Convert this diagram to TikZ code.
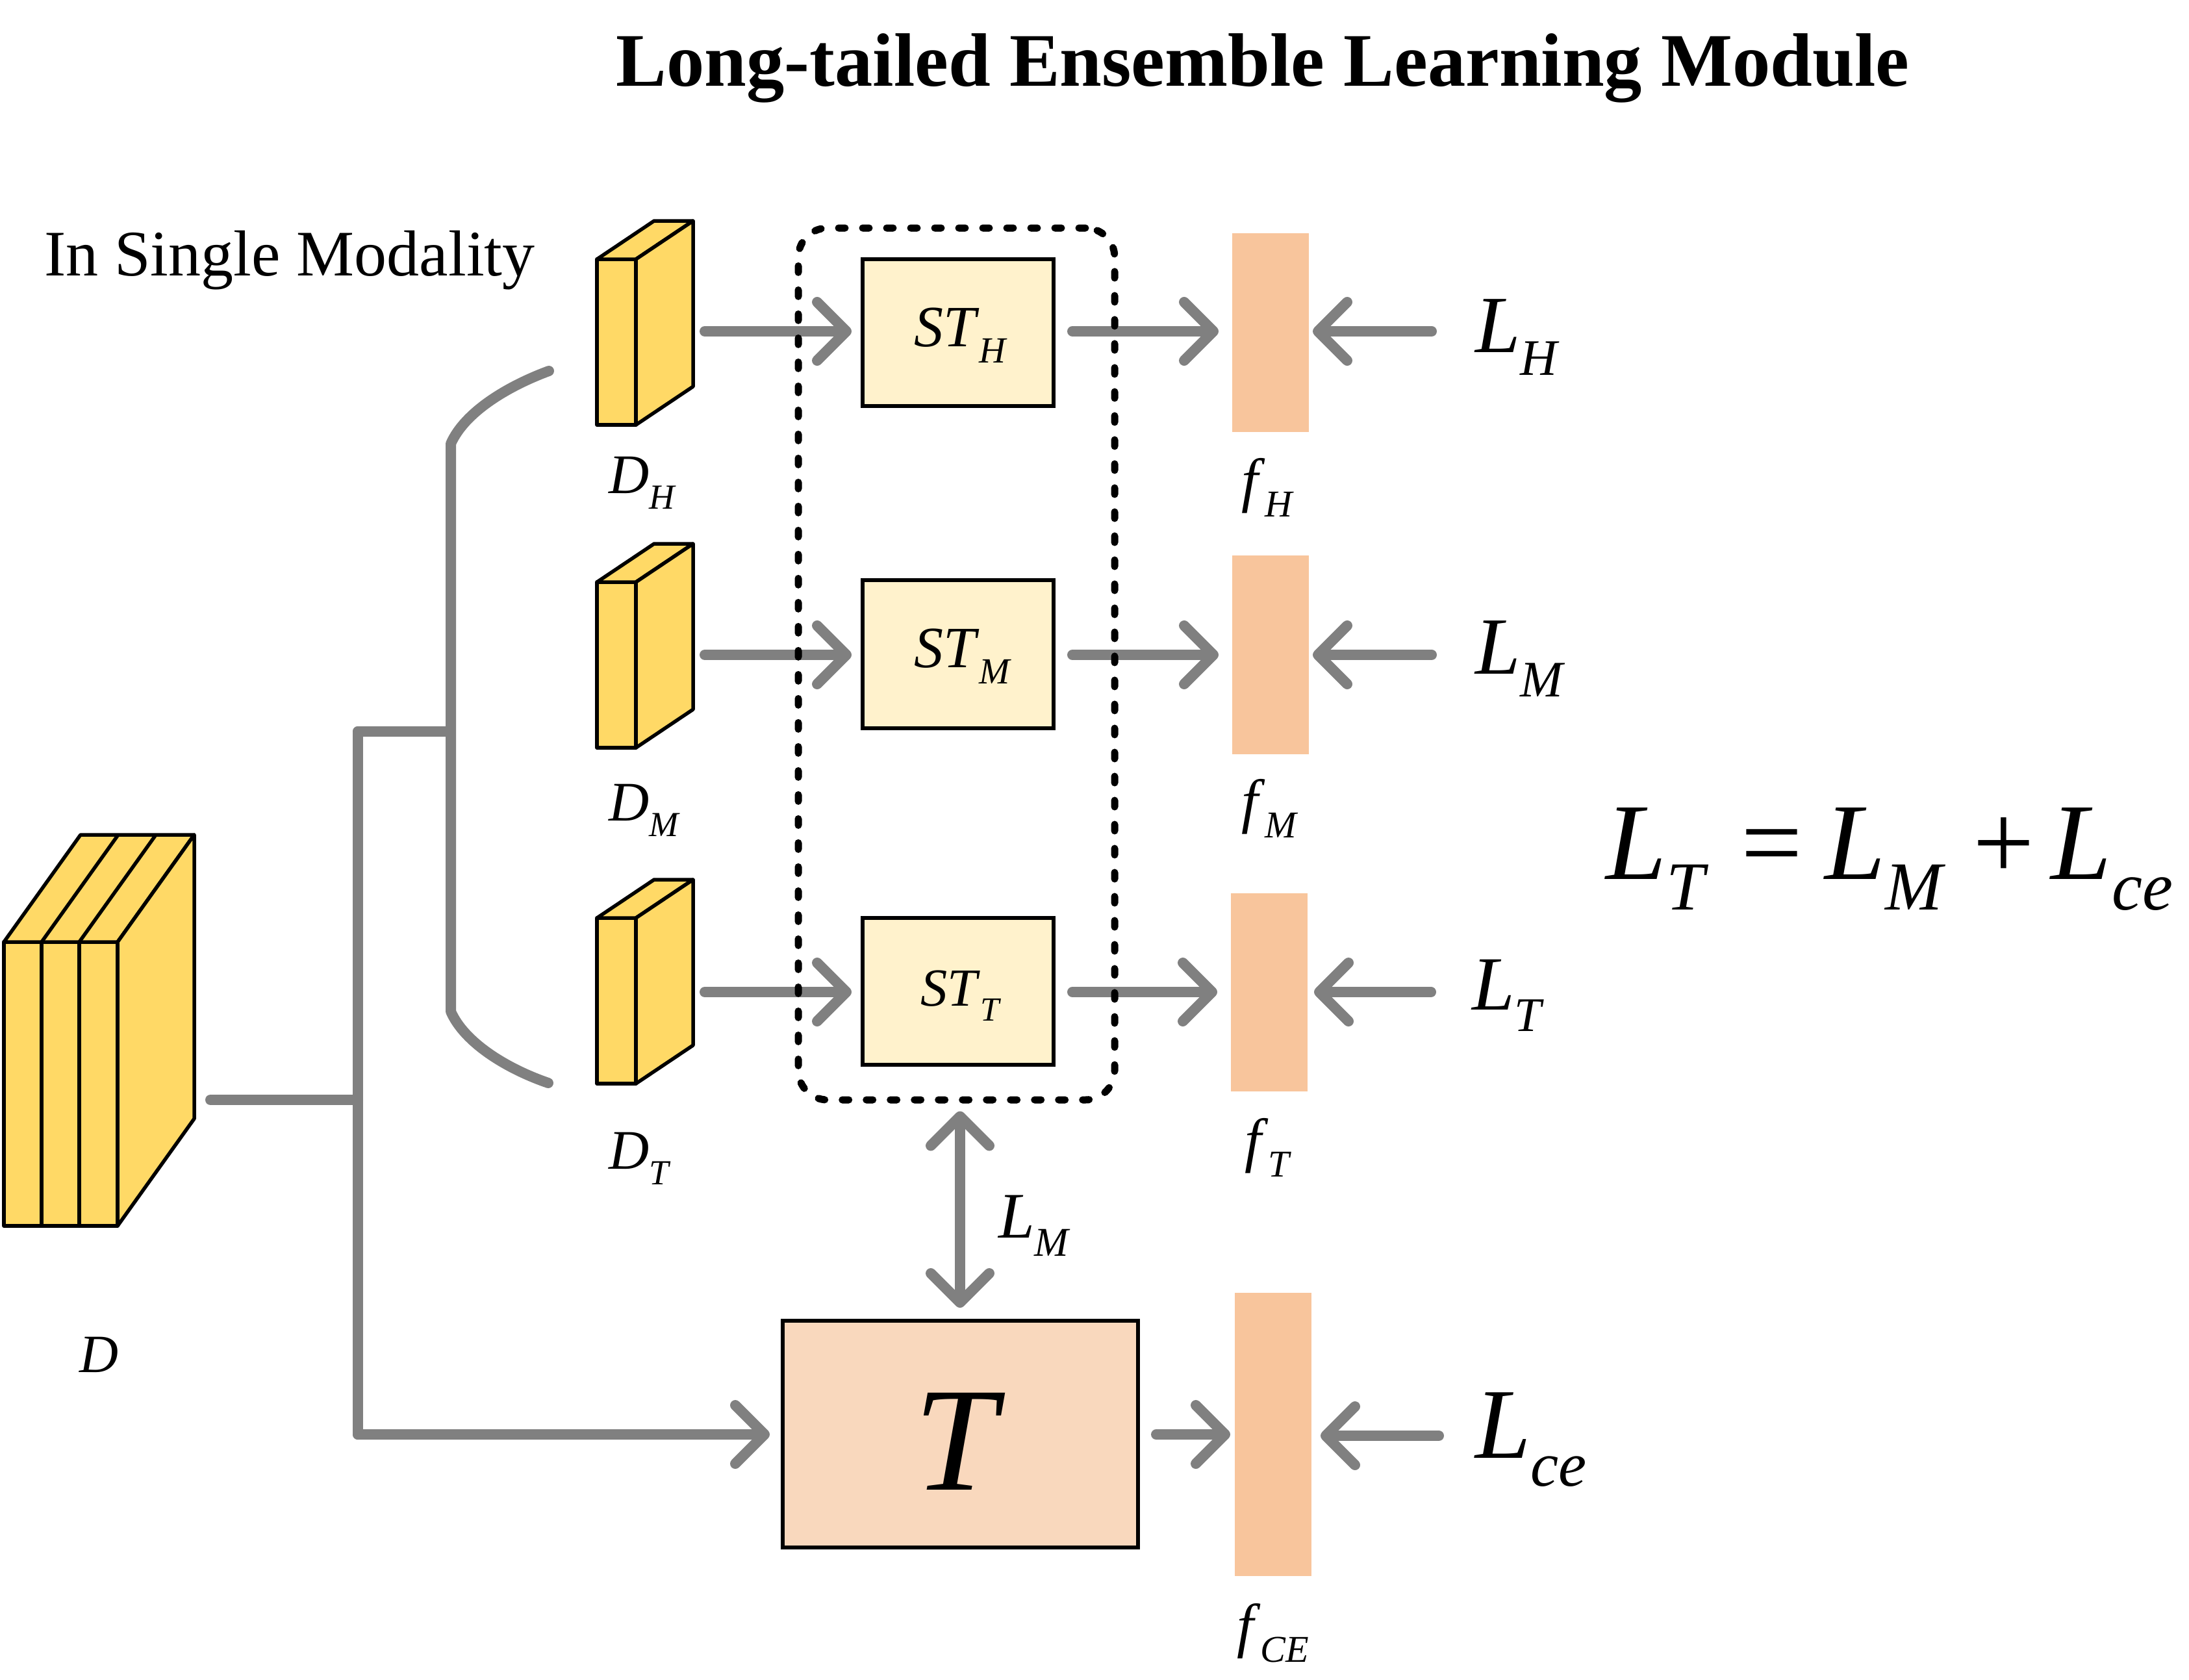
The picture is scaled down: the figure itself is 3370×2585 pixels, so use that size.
\documentclass[tikz,border=0pt]{standalone}
\usepackage{fontspec}
\setmainfont{Liberation Serif}
\usetikzlibrary{arrows.meta,fit}
\definecolor{cub}{HTML}{FFD966}
\definecolor{stc}{HTML}{FFF2CC}
\definecolor{fc}{HTML}{F8C59C}
\definecolor{tc}{HTML}{F9D8BD}
\definecolor{gl}{HTML}{808080}
\newcommand{\lsub}[2]{\textit{#1}\raisebox{-0.28em}{\scalebox{0.63}{\textit{#2}}}}
\newcommand{\fsz}[1]{\fontsize{#1}{#1}\selectfont}
\begin{document}
\begin{tikzpicture}[x=0.2pt,y=-0.2pt,
 cubst/.style={fill=cub,draw=black,line width=1.1pt,line join=round},
 stbox/.style={fill=stc,draw=black,line width=1.2pt,inner sep=0pt},
 fbox/.style={fill=fc,inner sep=0pt},
 tbox/.style={fill=tc,draw=black,line width=1.2pt,inner sep=0pt},
 gline/.style={draw=gl,line width=3.2pt,line cap=round,line join=round},
 arr/.style={gline,-{Straight Barb[length=9pt,width=18pt,round]}},
 darr/.style={gline,{Straight Barb[length=9pt,width=18pt,round]}-{Straight Barb[length=9pt,width=18pt,round]}},
 lbl/.style={inner sep=0pt,anchor=base west},
 grpbox/.style={draw=black,line width=2.2pt,dash pattern=on 2pt off 5.4pt,line cap=round,rounded corners=9pt,inner sep=0pt},
]
\useasboundingbox (0,0) rectangle (3370,2585);

% title and caption
\node[inner sep=0pt,anchor=base] (title) at (1944,133) {\fsz{23.3pt}\bfseries Long-tailed Ensemble Learning Module};
\node[lbl] (single) at (67,424) {\fsz{20pt}In Single Modality};

% big data stack D
\draw[cubst] (6,1450) rectangle (181,1887);
\draw[cubst] (64,1450) -- (64,1887) (122,1450) -- (122,1887);
\draw[cubst] (6,1450) -- (124,1285) -- (299,1285) -- (181,1450) -- cycle;
\draw[cubst] (64,1450) -- (182,1285) (122,1450) -- (240,1285);
\draw[cubst] (181,1450) -- (299,1285) -- (299,1722) -- (181,1887) -- cycle;
\node[lbl] (lD) at (121,2112) {\fsz{16.6pt}\textit{D}};

% small cuboids
\foreach \yy in {399,896,1413}{
 \begin{scope}[shift={(0,\yy)}]
  \draw[cubst] (919,0) rectangle (979,255);
  \draw[cubst] (919,0) -- (1007,-59) -- (1067,-59) -- (979,0) -- cycle;
  \draw[cubst] (979,0) -- (1067,-59) -- (1067,196) -- (979,255) -- cycle;
 \end{scope}
}
\node[lbl] (lDH) at (936,759) {\fsz{17.2pt}\lsub{D}{H}};
\node[lbl] (lDM) at (936,1263) {\fsz{17.2pt}\lsub{D}{M}};
\node[lbl] (lDT) at (936,1799) {\fsz{17.2pt}\lsub{D}{T}};

% ST boxes
\node[stbox,fit={(1328,399)(1622,625)}] (STH) {};
\node[stbox,fit={(1328,893)(1622,1121)}] (STM) {};
\node[stbox,fit={(1328,1413)(1622,1639)}] (STT) {};
\node[lbl] (lSTH) at (1406,533) {\fsz{18pt}\lsub{ST}{H}};
\node[lbl] (lSTM) at (1406,1027) {\fsz{18pt}\lsub{ST}{M}};
\node[lbl] (lSTT) at (1416,1548) {\fsz{16.5pt}\lsub{ST}{T}};

% T box
\node[tbox,fit={(1205,2033)(1752,2382)}] (Tb) {};
\node[inner sep=0pt,anchor=base] (Tl) at (1478,2293) {\fsz{45.6pt}\textit{T}};

% feature bars
\node[fbox,fit={(1897,359)(2015,665)}] (fH) {};
\node[fbox,fit={(1897,855)(2015,1161)}] (fM) {};
\node[fbox,fit={(1895,1375)(2013,1680)}] (fT) {};
\node[fbox,fit={(1901,1990)(2019,2426)}] (fCE) {};
\node[lbl] (lfH) at (1910,770) {\fsz{18.5pt}\lsub{f}{H}};
\node[lbl] (lfM) at (1910,1264) {\fsz{18.5pt}\lsub{f}{M}};
\node[lbl] (lfT) at (1915,1786) {\fsz{18.5pt}\lsub{f}{T}};
\node[lbl] (lfCE) at (1903,2533) {\fsz{18.5pt}\lsub{f}{CE}};

% loss labels
\node[lbl] (LH) at (2270,542) {\fsz{25pt}\lsub{L}{H}};
\node[lbl] (LM) at (2270,1037) {\fsz{25pt}\lsub{L}{M}};
\node[lbl] (LT) at (2265,1554) {\fsz{23.6pt}\lsub{L}{T}};
\node[lbl] (Lce) at (2270,2244) {\fsz{30.8pt}\lsub{L}{ce}};
\node[lbl] (LMm) at (1536,1905) {\fsz{20pt}\lsub{L}{M}};
\node[lbl] (eq) at (2471,1353) {\fsz{33.6pt}\lsub{L}{T}\hspace{0.3em}=\hspace{0.2em}\lsub{L}{M}\hspace{0.25em}+\hspace{0.15em}\lsub{L}{ce}};

% connector coordinates
\coordinate (dOut) at (324,1693);
\coordinate (trMid) at (551,1693);
\coordinate (trTop) at (551,1126);
\coordinate (trBot) at (551,2208);
\coordinate (brJ) at (694,1126);
\coordinate (brA) at (694,683);
\coordinate (brB) at (694,1557);
\coordinate (brTop) at (845,571);
\coordinate (brBot) at (844,1667);
\coordinate (cH) at (1085,510);
\coordinate (cM) at (1085,1008);
\coordinate (cT) at (1085,1527);
\coordinate (sLH) at (2204,510);
\coordinate (sLM) at (2204,1008);
\coordinate (sLT) at (2203,1527);
\coordinate (sLce) at (2215,2210);

% trunk and brace
\draw[gline] (dOut) -- (trMid);
\draw[gline] (trTop) -- (trBot);
\draw[gline] (trTop) -- (brJ);
\draw[gline] (brTop) .. controls (780,595) and (715,635) .. (brA) -- (brB) .. controls (715,1605) and (780,1645) .. (brBot);
\draw[arr,shorten >=3.4pt] (trBot) -- (trBot -| Tb.west);

% rows
\draw[arr,shorten >=2.8pt] (cH) -- (cH -| STH.west);
\draw[arr,shorten >=2.8pt] (cM) -- (cM -| STM.west);
\draw[arr,shorten >=2.8pt] (cT) -- (cT -| STT.west);
\draw[arr,shorten <=5.2pt,shorten >=4pt] (cH -| STH.east) -- (cH -| fH.west);
\draw[arr,shorten <=5.2pt,shorten >=4pt] (cM -| STM.east) -- (cM -| fM.west);
\draw[arr,shorten <=5.2pt,shorten >=4pt] (cT -| STT.east) -- (cT -| fT.west);
\draw[arr,shorten >=1pt] (sLH) -- (sLH -| fH.east);
\draw[arr,shorten >=1pt] (sLM) -- (sLM -| fM.east);
\draw[arr,shorten >=1.8pt] (sLT) -- (sLT -| fT.east);
\draw[arr,shorten <=5pt,shorten >=1.2pt] (trBot -| Tb.east) -- (trBot -| fCE.west);
\draw[arr,shorten >=2.6pt] (sLce) -- (sLce -| fCE.east);

% ensemble group (dashed, over the arrows)
\node[grpbox,fit={(1229,351)(1716,1693)}] (grp) {};
\draw[darr,shorten <=2.4pt,shorten >=3.4pt] (grp.south -| Tl) -- (Tb.north -| Tl);
\end{tikzpicture}
\end{document}
